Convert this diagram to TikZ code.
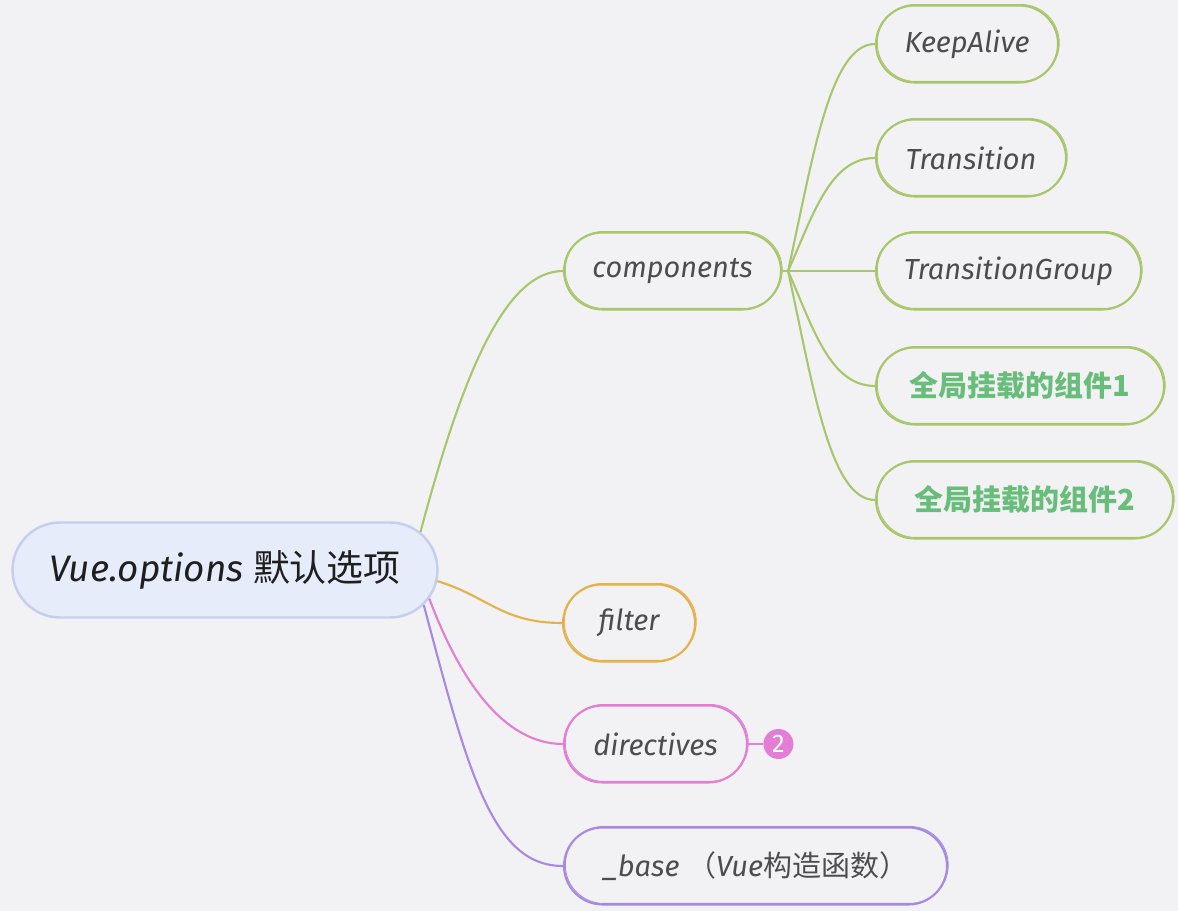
\documentclass[tikz,border=0pt]{standalone}
\usepackage{fontspec}
\setmainfont{Fira Sans}
\newfontfamily\cjk{Noto Sans CJK SC}
\usetikzlibrary{shapes.misc,positioning,calc}

\definecolor{bg}{RGB}{242,242,245}
\definecolor{ink}{RGB}{77,77,77}
\definecolor{rootink}{RGB}{31,31,31}
\definecolor{rootfill}{RGB}{230,236,250}
\definecolor{rootline}{RGB}{196,207,240}
\definecolor{leaf}{RGB}{168,198,108}
\definecolor{leafink}{RGB}{104,189,122}
\definecolor{amber}{RGB}{227,178,74}
\definecolor{orchid}{RGB}{226,126,211}
\definecolor{lilac}{RGB}{166,138,226}

\tikzset{
  topic/.style={rounded rectangle, line width=1.2pt, inner sep=0pt, minimum height=1.54cm,
                text=ink, font=\fontsize{16.5}{20}\selectfont\itshape, anchor=west,
                postaction={draw, line width=0.5pt, transform canvas={shift={(0.7pt,0.6pt)}}}},
  branch/.style={line width=1.2pt},
}

\begin{document}
\begin{tikzpicture}[x=0.02cm, y=-0.02cm]
    \fill[bg] (0,0) rectangle (1178,911);
    \useasboundingbox (0,0) rectangle (1178,911);

    \node[rounded rectangle, draw=rootline, fill=rootfill, line width=1.4pt, inner sep=0pt,
          minimum width=8.5cm, minimum height=1.9cm, text=rootink,
          font=\fontsize{21}{25}\selectfont]   (root)   at (225,570) {\itshape Vue.options {\cjk 默认选项}};

    \node[topic, draw=leaf, minimum width=4.34cm] (comp)  at (563,271) {components};
    \node[topic, draw=leaf, minimum width=3.64cm] (keep)  at (875,44)  {KeepAlive};
    \node[topic, draw=leaf, minimum width=3.8cm]  (trans) at (875,158) {Transition};
    \node[topic, draw=leaf, minimum width=5.3cm]  (tgroup) at (875,271) {TransitionGroup};
    \node[topic, draw=leaf, minimum width=5.76cm, text=leafink,
          font=\fontsize{16.5}{20}\selectfont\cjk\bfseries] (glob1) at (875,386) {全局挂载的组件1};
    \node[topic, draw=leaf, minimum width=5.94cm, text=leafink,
          font=\fontsize{16.5}{20}\selectfont\cjk\bfseries] (glob2) at (875,500) {全局挂载的组件2};

    \node[topic, draw=amber, minimum width=2.64cm]  (filt) at (562,623) {filter};
    \node[topic, draw=orchid, minimum width=3.66cm] (dir)  at (563,744) {directives};
    \node[circle, fill=orchid, text=white, inner sep=0pt, minimum size=0.6cm,
          font=\fontsize{14.5}{16}\selectfont, right = 0.3cm of dir] (num) {2};
    \node[topic, draw=lilac, minimum width=7.66cm]  (base) at (563,866)
          {\_base {\upshape\cjk （}Vue{\upshape\cjk 构造函数）}};

    \coordinate (hub) at ($(comp.east)+(6,0)$);

    % root to first level
    \draw[branch, draw=leaf]   (root.11) .. controls +(40,-150) and +(-60,0) .. (comp.west);
    \draw[branch, draw=amber]  (root.-3) .. controls +(50,15) and +(-60,0) .. (filt.west);
    \draw[branch, draw=orchid] (root.-8) .. controls +(30,80) and +(-60,0) .. (dir.west);
    \draw[branch, draw=lilac]  (root.-10) .. controls +(45,170) and +(-70,0) .. (base.west);

    % components to its children
    \draw[branch, draw=leaf] (comp.east) -- (hub);
    \draw[branch, draw=leaf] (hub) .. controls +(25,-114) and +(-45,0) .. (keep.west);
    \draw[branch, draw=leaf] (hub) .. controls +(25,-56) and +(-45,0) .. (trans.west);
    \draw[branch, draw=leaf] (hub) -- (tgroup.west);
    \draw[branch, draw=leaf] (hub) .. controls +(25,57) and +(-45,0) .. (glob1.west);
    \draw[branch, draw=leaf] (hub) .. controls +(25,115) and +(-45,0) .. (glob2.west);

    \draw[branch, draw=orchid] (dir.east) -- (num.west);
\end{tikzpicture}
\end{document}
